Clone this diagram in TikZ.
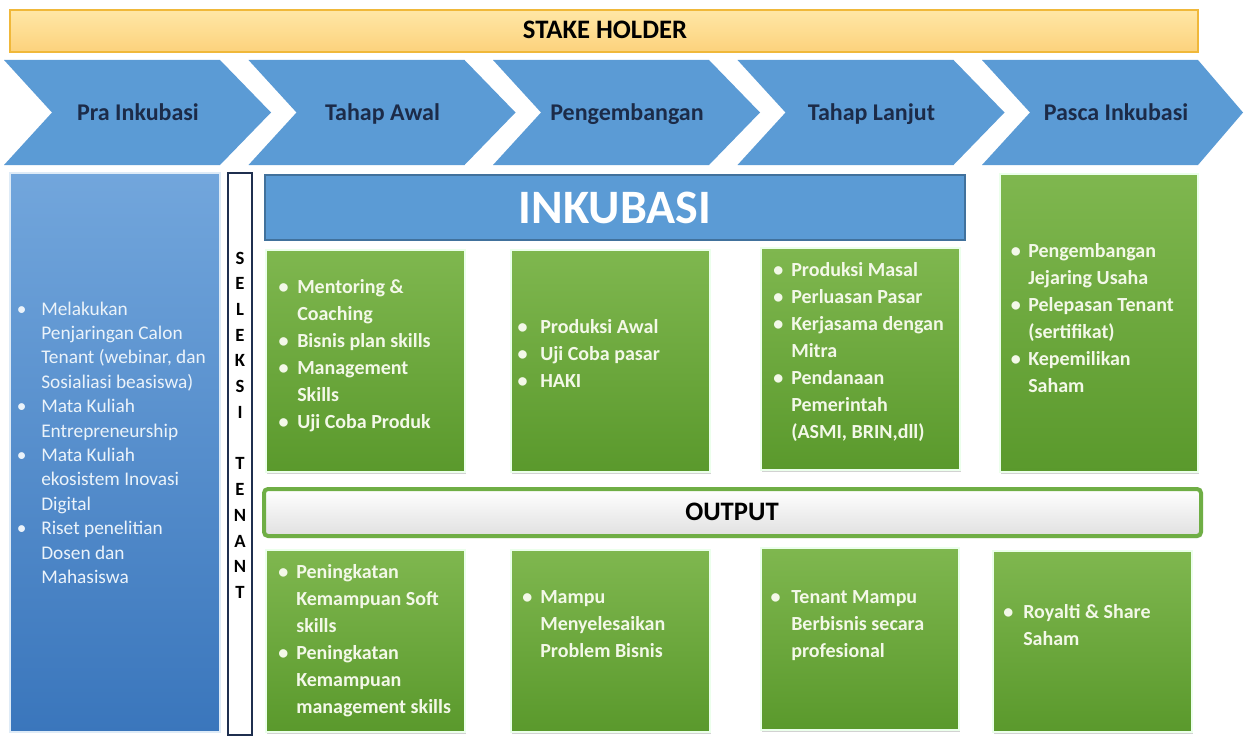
\documentclass[tikz,border=0pt]{standalone}
\usepackage{fontspec}
\setmainfont{Carlito}
\usetikzlibrary{shadows,fit}
\definecolor{chev}{HTML}{5B9BD5}
\definecolor{chevtext}{HTML}{1C2B48}
\definecolor{banTop}{HTML}{FFE7A6}
\definecolor{banBot}{HTML}{FCD27C}
\definecolor{banDraw}{HTML}{F0B83A}
\definecolor{leftTop}{HTML}{72A6DC}
\definecolor{leftBot}{HTML}{3A76BC}
\definecolor{inkub}{HTML}{5B9BD5}
\definecolor{inkubDraw}{HTML}{41719C}
\definecolor{grTop}{HTML}{7FB74F}
\definecolor{grBot}{HTML}{5A992C}
\definecolor{grText}{HTML}{F3F8E8}
\definecolor{outDraw}{HTML}{6FAE45}
\definecolor{navy}{HTML}{1F2F4F}
\newlength{\bgap}
\newcommand{\bu}{\llap{•\hspace{\bgap}}}
\tikzset{
  chevshape/.style={fill=chev},
  chevlabel/.style={text=chevtext, font=\fontsize{18}{21}\selectfont\bfseries, anchor=base, inner sep=0pt},
  banner/.style={top color=banTop, bottom color=banBot, draw=banDraw, line width=0.8pt, inner sep=0pt},
  leftbox/.style={top color=leftTop, bottom color=leftBot, draw=white!80!chev, line width=1pt, inner sep=0pt,
    drop shadow={shadow xshift=1pt, shadow yshift=-1pt, opacity=0.3}},
  selbox/.style={fill=white, draw=navy, line width=1.2pt, inner sep=0pt},
  inkbox/.style={fill=inkub, draw=inkubDraw, line width=0.8pt, inner sep=0pt},
  greenbox/.style={top color=grTop, bottom color=grBot, draw=white!92!green, line width=1.2pt, inner sep=0pt,
    drop shadow={shadow xshift=1pt, shadow yshift=-1.5pt, opacity=0.35}},
  outbox/.style={top color=white, bottom color=black!12, draw=outDraw, line width=3pt, rounded corners=3pt, inner sep=0pt,
    drop shadow={shadow xshift=1pt, shadow yshift=-1.5pt, opacity=0.3}},
  gtext/.style={text=grText, inner sep=0pt, anchor=base west},
  ltext/.style={text=white!88!chev, inner sep=0pt, anchor=base west,
    font=\fontsize{14.5}{18.3}\selectfont\setlength{\bgap}{11pt}},
  title/.style={font=\fontsize{20}{24}\selectfont\bfseries, text=black, anchor=base, inner sep=0pt},
}
\newcommand{\gfont}[1]{\fontsize{15}{20.3}\selectfont\bfseries\setlength{\bgap}{#1}}
\begin{document}
\begin{tikzpicture}[x=0.75pt,y=-0.75pt]
\useasboundingbox (0,0) rectangle (1244,735);
\fill[white] (0,0) rectangle (1244,735);

% banner
\node[banner, fit={(10,10) (1198,52)}] (ban) {};
\node[title] (bant) at (605,39) {STAKE HOLDER};

% chevrons
\foreach \i/\t in {0/Pra Inkubasi,1/Tahap Awal,2/Pengembangan,3/Tahap Lanjut,4/Pasca Inkubasi}{
  \pgfmathsetmacro\xo{4+244.5*\i}
  \pgfmathsetmacro\xr{\xo+216}
  \pgfmathsetmacro\xp{min(\xo+267,1243)}
  \pgfmathsetmacro\xn{\xo+48}
  \fill[chevshape] (\xo,60) -- (\xr,60) -- (\xp,112.5) -- (\xr,165) -- (\xo,165) -- (\xn,112.5) -- cycle;
  \node[chevlabel] (c\i) at (\xo+134,120) {\t};
}

% left box
\node[leftbox, fit={(10,173) (220,732)}] (pra) {};
\node[ltext] (prat) at (41,315) {\begin{tabular}[t]{@{}l@{}}
\bu Melakukan\\ Penjaringan Calon\\ Tenant (webinar, dan\\ Sosialiasi beasiswa)\\
\bu Mata Kuliah\\ Entrepreneurship\\
\bu Mata Kuliah\\ ekosistem Inovasi\\ Digital\\
\bu Riset penelitian\\ Dosen dan\\ Mahasiswa\end{tabular}};

% seleksi tenant
\node[selbox, fit={(228,173) (252,735)}] (sel) {};
\node[inner sep=0pt, anchor=base, font=\fontsize{14}{19.3}\selectfont\bfseries] (selt) at (240,264)
 {\begin{tabular}[t]{@{}c@{}}S\\E\\L\\E\\K\\S\\I\\ \mbox{}\\T\\E\\N\\A\\N\\T\end{tabular}};

% inkubasi header
\node[inkbox, fit={(265,175) (965,240)}] (ink) {};
\node[text=white, font=\fontsize{36}{40}\selectfont\bfseries] (inkt) at (ink.center) {INKUBASI};

% row 1 green boxes
\node[greenbox, fit={(266,250) (465,472)}] (ta) {};
\node[gtext, font=\gfont{6.5pt}] (tat) at (297,293) {\begin{tabular}[t]{@{}l@{}}
\bu Mentoring \&\\ Coaching\\ \bu Bisnis plan skills\\ \bu Management\\ Skills\\ \bu Uji Coba Produk\end{tabular}};

\node[greenbox, fit={(511,250) (710,472)}] (pg) {};
\node[gtext, font=\gfont{9.5pt}] (pgt) at (540,333) {\begin{tabular}[t]{@{}l@{}}
\bu Produksi Awal\\ \bu Uji Coba pasar\\ \bu HAKI\end{tabular}};

\node[greenbox, fit={(761,248) (960,470)}] (tl) {};
\node[gtext, font=\gfont{6pt}] (tlt) at (791,276) {\begin{tabular}[t]{@{}l@{}}
\bu Produksi Masal\\ \bu Perluasan Pasar\\ \bu Kerjasama dengan\\ Mitra\\ \bu Pendanaan\\ Pemerintah\\ (ASMI, BRIN,dll)\end{tabular}};

\node[greenbox, fit={(1000,174) (1198,472)}] (pi) {};
\node[gtext, font=\gfont{5.5pt}] (pit) at (1028,257) {\begin{tabular}[t]{@{}l@{}}
\bu Pengembangan\\ Jejaring Usaha\\ \bu Pelepasan Tenant\\ (sertifikat)\\ \bu Kepemilikan\\ Saham\end{tabular}};

% output bar
\node[outbox, fit={(264,489) (1201,536)}] (out) {};
\node[title] (outt) at (732,520) {OUTPUT};

% row 2 green boxes
\node[greenbox, fit={(266,550) (465,732)}] (oa) {};
\node[gtext, font=\gfont{6pt}] (oat) at (296,578) {\begin{tabular}[t]{@{}l@{}}
\bu Peningkatan\\ Kemampuan Soft\\ skills\\ \bu Peningkatan\\ Kemampuan\\ management skills\end{tabular}};

\node[greenbox, fit={(511,550) (710,732)}] (ob) {};
\node[gtext, font=\gfont{6pt}] (obt) at (540,603) {\begin{tabular}[t]{@{}l@{}}
\bu Mampu\\ Menyelesaikan\\ Problem Bisnis\end{tabular}};

\node[greenbox, fit={(761,548) (959,730)}] (oc) {};
\node[gtext, font=\gfont{8pt}] (oct) at (791,603) {\begin{tabular}[t]{@{}l@{}}
\bu Tenant Mampu\\ Berbisnis secara\\ profesional\end{tabular}};

\node[greenbox, fit={(993,551) (1192,732)}] (od) {};
\node[gtext, font=\gfont{7.5pt}] (odt) at (1023,618) {\begin{tabular}[t]{@{}l@{}}
\bu Royalti \& Share\\ Saham\end{tabular}};
\end{tikzpicture}
\end{document}
